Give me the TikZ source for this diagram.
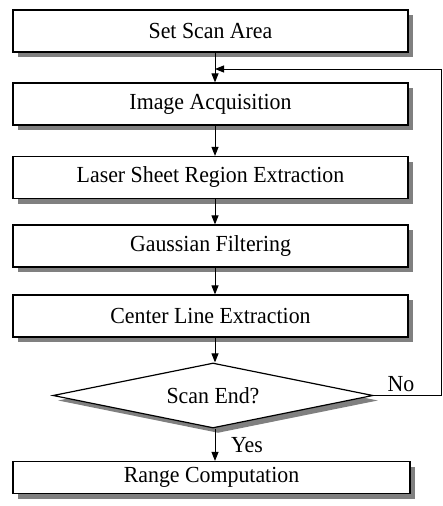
\documentclass[tikz,border=0pt]{standalone}
\usepackage{fontspec}
\setmainfont{Liberation Serif}[FakeStretch=0.95]
\usetikzlibrary{arrows.meta,shapes.geometric,shadows}
\begin{document}
\begin{tikzpicture}[x=1pt,y=-1pt,
  shadowed/.style={drop shadow={shadow xshift=5pt,shadow yshift=-5pt,fill=black!50,opacity=1}},
  txt/.style={font=\fontsize{23}{26}\selectfont},
  stepbox/.style={draw=black,line width=1.2pt,fill=white,shadowed,minimum width=395pt,minimum height=42pt,inner sep=0pt,txt},
  decision/.style={diamond,draw=black,line width=1.2pt,fill=white,shadowed,minimum width=320pt,minimum height=65pt,inner sep=0pt,aspect=4.9,txt},
  flow/.style={draw=black,line width=1pt,-{Triangle[length=9pt,width=7pt]}},
  lbl/.style={txt,inner sep=0pt}]
\useasboundingbox (0,0) rectangle (443,506);
\coordinate (ax) at (215,0);
\node[stepbox] (s1) at (210.5,31) {Set Scan Area};
\node[stepbox] (s2) at (210.5,104) {Image Acquisition};
\node[stepbox] (s3) at (210.5,177.5) {Laser Sheet Region Extraction};
\node[stepbox] (s4) at (210.5,246) {Gaussian Filtering};
\node[stepbox] (s5) at (210.5,316) {Center Line Extraction};
\node[decision] (d) at (213,395.5) {Scan End?};
\node[stepbox,minimum height=32pt,minimum width=397pt] (s6) at (211.5,477.5) {Range Computation};
\node[lbl] (no) at (401,384) {No};
\node[lbl] (yes) at (247,445) {Yes};
\coordinate (fb) at (441,69);
\draw[flow] (s1.south -| ax) -- (s2.north -| ax);
\draw[flow] (s2.south -| ax) -- (s3.north -| ax);
\draw[flow] (s3.south -| ax) -- (s4.north -| ax);
\draw[flow] (s4.south -| ax) -- (s5.north -| ax);
\draw[flow] (s5.south -| ax) -- (d.north -| ax);
\draw[flow] (d.south -| ax) -- (s6.north -| ax);
\draw[flow] (d.east) -| (fb) -- (fb -| ax);
\end{tikzpicture}
\end{document}
